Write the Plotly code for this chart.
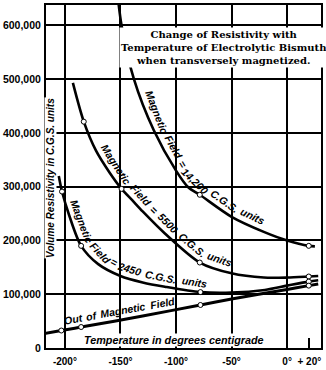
import math
import numpy as np
import plotly.graph_objects as go

# ---- data ----
t_14200 = [-153, -149, -138, -120, -100, -89, -78.6, -50, -21, 0, 19.5, 25]
r_14200 = [665000, 600000, 501000, 405000, 330000, 299000, 285000, 244000, 216000, 200000, 190000, 189000]
d_t_14200 = [-78.6, 19.5]
d_r_14200 = [285000, 190000]

t_5500 = [-192.8, -183, -172, -160, -149, -139, -130, -110, -78.6, -50, -21, 0, 19.5, 28]
r_5500 = [493000, 421000, 367000, 327000, 296000, 274000, 254000, 213000, 159000, 139000, 131000, 131000, 133000, 134000]
d_t_5500 = [-183, -149, -78.6, 19.5]
d_r_5500 = [421000, 296000, 159000, 133000]

t_2450 = [-205.5, -202.6, -196, -185.4, -170, -150, -130, -110, -78, -50, -20, 0, 19.5, 28]
r_2450 = [320000, 291000, 246000, 190000, 156000, 134000, 122000, 114000, 104000, 103000, 108000, 116000, 123500, 126000]
d_t_2450 = [-202.6, -185.4, -78, 19.5]
d_r_2450 = [291000, 190000, 104000, 123500]

t_out = [-218, -203.2, -185.4, -130, -78, -50, 0, 19.5, 28]
r_out = [27000, 32500, 39000, 59500, 80000, 91000, 109000, 116000, 119000]
d_t_out = [-203.2, -185.4, -78, 19.5]
d_r_out = [32500, 39000, 80000, 116000]

x_ticks = [-200, -150, -100, -50, 0, 20]
x_ticktext = ["-200°", "-150°", "-100°", "-50°", "0°", "+ 20°"]
x_grid = [-200, -150, -100, -50, 0]
y_ticks = [0, 100000, 200000, 300000, 400000, 500000, 600000]
y_ticktext = ["0", "100,000", "200,000", "300,000", "400,000", "500,000", "600,000"]

# curve labels: (curve, words, temperature where the text starts, where it ends)
curve_labels = [
    ("14200", ["Magnetic", "Field", "=", "14,200", "C.G.S.", "units"], -133, -24),
    ("5500", ["Magnetic", "Field", "=", "5500", "C.G.S.", "units"], -173, -52),
    ("2450", ["Magnetic", "Field", "=", "2450", "C.G.S.", "units"], -200, -72),
    ("out", ["Out", "of", "Magnetic", "Field"], -199, -99),
]

X_RANGE = [-217, 30.5]
Y_RANGE = [0, 638000]

# plot-area geometry (pixels) used only to place text labels
L, R, T, B = 43, 321, 3, 356
SX = (R - L) / (X_RANGE[1] - X_RANGE[0])
SY = (B - T) / (Y_RANGE[1] - Y_RANGE[0])


def to_px(xd, yd):
    return L + (xd - X_RANGE[0]) * SX, B - (yd - Y_RANGE[0]) * SY


def to_data(px, py):
    return X_RANGE[0] + (px - L) / SX, Y_RANGE[0] + (B - py) / SY


# approximate bold sans advance widths (per 1000 em), used for spacing words along curves
CW = {" ": 278, "M": 833, "a": 556, "g": 611, "n": 611, "e": 556, "t": 333, "i": 278, "c": 556, "F": 611,
      "l": 278, "d": 611, "=": 584, "1": 556, "4": 556, "2": 556, "0": 556, "5": 556, ",": 278, "C": 722,
      "G": 778, ".": 278, "S": 667, "u": 611, "s": 556, "O": 778, "o": 611, "f": 333}


def wwidth(s):
    return sum(CW.get(ch, 556) for ch in s)


curves = {"14200": (t_14200, r_14200), "5500": (t_5500, r_5500), "2450": (t_2450, r_2450), "out": (t_out, r_out)}

fig = go.Figure()
for key, w in [("14200", 2.6), ("5500", 2.6), ("2450", 2.6), ("out", 3.0)]:
    tx, ry = curves[key]
    fig.add_trace(go.Scatter(x=tx, y=ry, mode="lines",
                             line=dict(color="black", width=w, shape="spline", smoothing=0.8),
                             hoverinfo="skip", showlegend=False))
for tx, ry in [(d_t_14200, d_r_14200), (d_t_5500, d_r_5500), (d_t_2450, d_r_2450), (d_t_out, d_r_out)]:
    fig.add_trace(go.Scatter(x=tx, y=ry, mode="markers",
                             marker=dict(symbol="circle", size=5, color="white", line=dict(color="black", width=1)),
                             hoverinfo="skip", showlegend=False))

lab_font = dict(family="Liberation Sans", size=10.5, color="black", style="italic", weight="bold")
OFF = 9.5
for key, words, t_start, t_end in curve_labels:
    tx, ry = curves[key]
    ts = np.linspace(t_start, t_end, 400)
    ys = np.interp(ts, tx, ry)
    pts = np.array([to_px(a, b) for a, b in zip(ts, ys)])
    seg = np.hypot(np.diff(pts[:, 0]), np.diff(pts[:, 1]))
    S = np.concatenate([[0], np.cumsum(seg)])
    widths = [wwidth(wd) for wd in words]
    total = sum(widths) + CW[" "] * (len(words) - 1)
    k = S[-1] / total
    pos = 0.0
    for wd, wv in zip(words, widths):
        sc = (pos + wv / 2) * k
        pos += wv + CW[" "]
        i = int(np.clip(np.searchsorted(S, sc), 1, len(S) - 1))
        ia, ib = max(i - 12, 0), min(i + 12, len(S) - 1)
        ang = math.degrees(math.atan2(pts[ib, 1] - pts[ia, 1], pts[ib, 0] - pts[ia, 0]))
        f = (sc - S[i - 1]) / max(S[i] - S[i - 1], 1e-9)
        px = pts[i - 1, 0] + f * (pts[i, 0] - pts[i - 1, 0])
        py = pts[i - 1, 1] + f * (pts[i, 1] - pts[i - 1, 1])
        th = math.radians(ang)
        cx, cy = px + OFF * math.sin(th), py - OFF * math.cos(th)
        xd, yd = to_data(cx, cy)
        fig.add_annotation(x=xd, y=yd, xref="x", yref="y", text=wd, showarrow=False, textangle=ang,
                           xanchor="center", yanchor="middle", font=lab_font)

xd, yd = to_data(172, 347.5)
fig.add_annotation(x=xd, y=yd, xref="x", yref="y", text="Temperature in degrees centigrade", showarrow=False,
                   xanchor="center", yanchor="middle", bgcolor="white", borderpad=0,
                   font=dict(family="Liberation Sans", size=10.8, color="black", style="italic", weight="bold"))
xd, yd = to_data(48, 181)
fig.add_annotation(x=xd, y=yd, xref="x", yref="y", text="Volume Resistivity in C.G.S. units", showarrow=False,
                   textangle=-90, xanchor="center", yanchor="middle", bgcolor="white", borderpad=0,
                   font=dict(family="Liberation Sans", size=10, color="black", style="italic", weight="bold"))
xd, yd = to_data(223, 47)
fig.add_annotation(x=xd, y=yd, xref="x", yref="y",
                   text="Change of Resistivity with<br>Temperature of Electrolytic Bismuth<br>when transversely magnetized.",
                   showarrow=False, xanchor="center", yanchor="middle", align="center", bgcolor="white", borderpad=1,
                   font=dict(family="DejaVu Serif", size=10, color="black", weight="bold"))

fig.update_layout(
    width=326, height=370, margin=dict(l=L, r=326 - R, t=T, b=370 - B),
    paper_bgcolor="white", plot_bgcolor="white",
    xaxis=dict(range=X_RANGE, tickmode="array", tickvals=x_ticks, ticktext=x_ticktext, showgrid=False,
               ticks="inside", ticklen=10, tickwidth=1.5, tickcolor="black", ticklabelstandoff=3,
               minor=dict(tickmode="array", tickvals=x_grid, showgrid=True, gridcolor="black", gridwidth=1.5, ticks=""),
               showline=True, linecolor="black", linewidth=2, mirror=True, zeroline=False,
               tickfont=dict(family="Liberation Sans", size=10, color="black", weight="bold")),
    yaxis=dict(range=Y_RANGE, tickmode="array", tickvals=y_ticks, ticktext=y_ticktext, showgrid=True,
               gridcolor="black", gridwidth=1.5, ticks="", showline=True, linecolor="black", linewidth=2,
               mirror=True, zeroline=False, ticklabelstandoff=1,
               tickfont=dict(family="Liberation Sans", size=10.5, color="black", weight="bold")),
)
fig.write_html("out.html")
